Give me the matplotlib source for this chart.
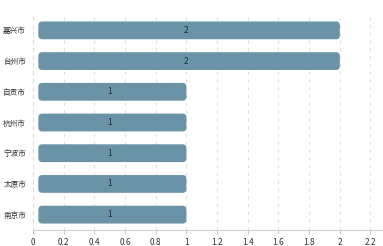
import matplotlib
matplotlib.use('Agg')
import matplotlib.pyplot as plt
from matplotlib.patches import FancyBboxPatch

plt.rcParams['font.family'] = ['Noto Sans CJK SC', 'DejaVu Sans']

cities = ['南京市', '太原市', '宁波市', '杭州市', '自贡市', '台州市', '嘉兴市']
counts = [1, 1, 1, 1, 1, 2, 2]
xticks = [0, 0.2, 0.4, 0.6, 0.8, 1, 1.2, 1.4, 1.6, 1.8, 2, 2.2]
xlabels = ['0', '0.2', '0.4', '0.6', '0.8', '1', '1.2', '1.4', '1.6', '1.8', '2', '2.2']

bar_color = '#6b93a7'

fig = plt.figure(figsize=(3.83, 2.46), dpi=100)
ax = fig.add_axes([33/383, 16/246, 349/383, 215/246])

ypos = list(range(len(cities)))
bars = ax.barh(ypos, counts, height=0.58, color=bar_color)
ax.set_xlim(0, 2.275)
ax.set_ylim(-0.5, 6.5)

# swap rectangles for rounded boxes
for b in bars:
    x0, y0 = b.get_x(), b.get_y()
    w, h = b.get_width(), b.get_height()
    b.set_visible(False)
    p = FancyBboxPatch((x0 + 0.035, y0), w - 0.035, h,
                       boxstyle='round,pad=0,rounding_size=0.025',
                       mutation_aspect=5.0, facecolor=bar_color,
                       edgecolor='none', zorder=3)
    ax.add_patch(p)

for y, v in zip(ypos, counts):
    ax.text(v / 2, y, str(v), ha='center', va='center', fontsize=6,
            color='#1a2a3a', zorder=4)

ax.set_yticks(ypos)
ax.set_yticklabels(cities, fontsize=5.5, color='#333333')
ax.set_xticks(xticks)
ax.set_xticklabels(xlabels, fontsize=6, color='#333333')
ax.tick_params(axis='y', length=0, pad=5)
ax.tick_params(axis='x', length=3, color='#cccccc', pad=3)

ax.grid(axis='x', linestyle=(0, (3, 4)), color='#e0e0e0', linewidth=0.8, zorder=0)
ax.set_axisbelow(True)

for s in ['top', 'right']:
    ax.spines[s].set_visible(False)
ax.spines['bottom'].set_color('#cccccc')
ax.spines['left'].set_color('#f0d8d8')
ax.spines['left'].set_linestyle((0, (3, 4)))

fig.savefig('out.png', dpi=100)
